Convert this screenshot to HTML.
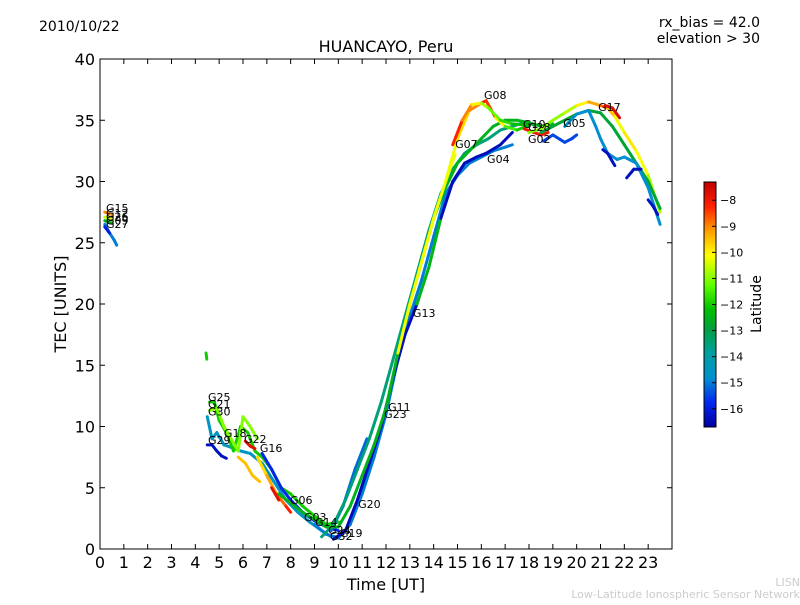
<!DOCTYPE html>
<html><head><meta charset="utf-8"><style>
body{margin:0;background:#fff;}
svg text{font-family:"DejaVu Sans","Liberation Sans",sans-serif;}
</style></head><body>
<svg id="chart" width="800" height="600" xmlns="http://www.w3.org/2000/svg">
<defs>
<linearGradient id="jet" x1="0" y1="1" x2="0" y2="0"></linearGradient>
</defs>
<rect width="800" height="600" fill="#fff"/>
<text x="39" y="31" font-size="14">2010/10/22</text>
<text x="760" y="27" font-size="14" text-anchor="end">rx_bias = 42.0</text>
<text x="760" y="43" font-size="14" text-anchor="end">elevation &gt; 30</text>
<text x="386" y="52" font-size="16" text-anchor="middle">HUANCAYO, Peru</text>
<g id="plot"></g>
<rect x="100" y="59" width="572" height="490" fill="none" stroke="#000" stroke-width="1"/>
<g id="axes"></g>
<text x="386" y="590" font-size="16" text-anchor="middle">Time [UT]</text>
<text transform="translate(66,304) rotate(-90)" font-size="16" text-anchor="middle">TEC [UNITS]</text>
<rect x="704" y="182" width="12" height="245" fill="url(#jet)" stroke="#000" stroke-width="1"/>
<g id="cbar"></g>
<text transform="translate(761,304) rotate(-90)" font-size="14" text-anchor="middle">Latitude</text>
<text x="800" y="586" font-size="11" fill="#ccc" text-anchor="end">LISN</text>
<text x="800" y="598" font-size="11" fill="#ccc" text-anchor="end">Low-Latitude Ionospheric Sensor Network</text>
</svg>
<script>
const xTicks=[0,1,2,3,4,5,6,7,8,9,10,11,12,13,14,15,16,17,18,19,20,21,22,23];
const yTicks=[0,5,10,15,20,25,30,35,40];
const cbTicks=[-8,-9,-10,-11,-12,-13,-14,-15,-16];
const traceTimes=[
[0.2,0.5],[0.2,0.5],[0.2,0.5],[0.2,0.4,0.6,0.7],[0.2,0.4],
[4.5,4.7,4.9,5.2,5.5,5.9,6.3,6.8,7.3,7.8,8.3,8.8,9.3,9.7],
[4.6,4.8,5,5.3,5.6,5.9,6.2,6.5,6.8,7.2,7.6,8,8.5,9,9.5,10],
[4.6,4.9,5.2,5.5,5.8,6,6.3,6.6],
[4.5,4.7,4.9,5.1,5.3],
[6.1,6.3,6.5],
[6.8,7.2,7.6,8,8.5,9,9.5,10],
[6.6,7,7.4,7.8,8],
[5.8,6.1,6.4,6.7],
[4.45,4.48],
[7.2,7.5],
[9,9.5,10,10.5,11,11.5,12,12.5,13,13.5,14,14.5,15,15.5,16,16.5,17,17.3],
[9.8,10.3,10.8,11.3,11.8,12.3,12.8,13.3,13.8,14.3,14.8,15.3,15.8,16.2,16.8,17.3],
[9.7,10.2,10.7,11.2],
[9.3,9.8,10.3,10.8,11.3,11.8,12.3,12.8,13.3,13.8,14.3,14.8,15.3,15.8,16.3,16.8,17.3,17.8,18.3],
[7.5,8.5,9.5,10,10.5,11,11.5,12,12.5,13,13.5,14,14.5,15,15.5,16,16.5,17,17.5,18,18.5,19],
[12.5,13,13.5,14,14.5,14.9],
[14.5,15,15.5,16,16.2,16.6,17,17.5,18],
[14.8,15.2,15.6,16,16.3,16.8,17.3,18],
[17.8,18.2,18.5,18.8],
[18.6,19,19.5,19.8,20],
[18,18.5,19,19.5,20,20.5,21,21.3,21.6,22,22.5,23,23.5],
[21.2,21.5,21.8],
[18.5,19,19.5,20,20.5,21,21.5,22,22.5,23,23.5],
[19.5,20,20.5,20.8,21,21.3,21.7,22,22.5,23,23.5],
[21.1,21.3,21.6],[22.1,22.4,22.7],[23,23.2,23.4]
];
const traceTec=[
[27.5,27.3],[27.1,26.9],[26.8,26.6],[26.5,25.8,25.2,24.8],[26.3,25.8],
[10.8,9,9.5,8.5,8.3,8,7.8,7,5.5,4,3,2.2,1.5,1],
[12,12,10.5,9.5,8,10,9.5,8,7.5,6.5,5,4.5,3.5,2.7,2,2.2],
[11.3,11.5,10,9,8,10.8,10,9],
[8.5,8.5,8,7.6,7.4],
[8.8,8.4,8.2],
[7.8,6.5,5,4,3,2.3,1.8,1.5],
[7.5,6,4.5,3.5,3],
[7.5,7,6,5.5],
[16,15.5],
[5,4],
[2,1.2,0.9,2,4.5,7.5,11,15.5,19,22,25.5,29,30.5,31.5,32,32.5,32.8,33],
[0.8,1.5,4,7,10,14,17.5,20,23,27,30,31.5,32,32.3,33,34],
[1.5,3.5,6.5,9],
[1,2,4,6.5,9,12,15.5,19,22.5,26,29,31,32.3,33,33.5,34.2,34.5,34.8,34.6],
[4.5,3,1.8,1.8,3.5,6,8.5,11.5,16,20,23.5,27,29.5,31.5,32.5,33.5,34.5,35,35,34.8,34.5,34.7],
[16,20,23.5,27,30,32.2],
[30,33.5,35.8,36.4,36.6,35.2,34.5,34.2,34.6],
[33,35,36.3,36.4,36,35,34.7,34.6],
[34.3,34,33.8,34],
[33.3,33.8,33.2,33.5,33.8],
[34,34.3,35,35.6,36.2,36.5,36.2,36,35.3,34,32.5,30.5,27.5],
[36.2,36,35.2],
[34,34.5,35,35.5,35.8,35.6,34.5,33,31.5,30,27.8],
[34.5,35.5,35.8,34.5,33.5,32.3,31.8,32,31.5,29.5,26.5],
[32.6,32.3,31.3],[30.3,31,31],[28.5,28,27.3]
];
const traceLat=[
[-9,-9],[-10.5,-10.5],[-12.5,-12.5],[-15,-15,-15,-15],[-16,-16],
[-14.5,-14.5,-14.5,-14.5,-14.5,-14.5,-14.5,-14.5,-14.5,-14.5,-14.5,-14.5,-14.5,-14.5],
[-12,-12,-12,-12,-12,-12,-12,-12,-12,-12,-12,-12,-12,-12,-12,-12],
[-11,-11,-11,-11,-11,-11,-11,-11],
[-16.3,-16.3,-16.3,-16.3,-16.3],
[-7.8,-7.8,-7.8],
[-15.8,-15.8,-15.8,-15.8,-15.8,-15.8,-15.8,-15.8],
[-10,-9.5,-9,-8.5,-8],
[-9.5,-9.5,-9.5,-9.5],
[-12,-12],
[-7.8,-7.8],
[-15,-15,-15,-15,-15,-15,-15,-15,-15,-15,-15,-15,-15,-15,-15,-15,-15,-15],
[-16.4,-16.4,-16.4,-16.4,-16.4,-16.4,-16.4,-16.4,-8.5,-16.4,-16.4,-16.4,-16.4,-16.4,-16.4,-16.4],
[-15.2,-15.2,-15.2,-15.2],
[-13.5,-13.5,-13.5,-13.5,-13.5,-13.5,-13.5,-13.5,-13.5,-13.5,-13.5,-13.5,-13.5,-13.5,-13.5,-13.5,-13.5,-13.5,-13.5],
[-12.5,-12.5,-12.5,-12.5,-12.5,-12.5,-12.5,-12.5,-12.5,-12.5,-12.5,-12.5,-12.5,-12.5,-12.5,-12.5,-12.5,-12.5,-12.5,-12.5,-12.5,-12.5],
[-10.2,-10.2,-10.2,-10.2,-10.2,-10.2],
[-10.5,-10,-9.5,-8.5,-7.8,-9,-11,-12,-12],
[-8,-8.5,-9.5,-10.5,-11,-11.5,-12,-12.5],
[-8,-8,-8,-8],
[-15.5,-15.5,-15.5,-15.5,-15.5],
[-11,-11,-11,-10.8,-10.5,-9.5,-9,-8.5,-10.5,-10,-9.8,-10.5,-11],
[-7.7,-7.7,-7.7],
[-12.8,-12.8,-12.8,-12.8,-12.8,-12.8,-12.8,-12.8,-12.8,-12.8,-12.8],
[-14.8,-14.8,-14.8,-14.8,-14.8,-14.8,-14.8,-14.8,-14.8,-14.8,-14.8],
[-16.3,-16.3,-16.3],[-16.3,-16.3,-16.3],[-16.3,-16.3,-16.3]
];
const labelNames=["G15","G12","G26","G09","G27","G25","G21","G30","G18","G29","G22","G16","G06","G03","G14","G24","G32","G19","G20","G11","G23","G13","G07","G08","G04","G10","G28","G02","G05","G17"];
const labelTimes=[0.25,0.25,0.25,0.25,0.25,4.53,4.53,4.53,5.2,4.53,6.04,6.71,7.97,8.56,9.02,9.57,9.65,10.07,10.83,12.09,11.92,13.13,14.9,16.11,16.24,17.75,17.96,17.96,19.43,20.9];
const labelTec=[27.5,27.1,26.8,26.5,26.2,12.08,11.5,10.9,9.14,8.57,8.65,7.92,3.67,2.29,1.88,1.22,0.73,0.98,3.35,11.27,10.69,18.94,32.73,36.73,31.51,34.37,34.12,33.14,34.45,35.76];

const NS="http://www.w3.org/2000/svg";
const X=t=>100+t*572/24, Y=v=>549-v*490/40;
const vmin=-16.7,vmax=-7.3;
const CB=v=>427-(v-vmin)/(vmax-vmin)*245;
const cmapPos=[0,0.1,0.2,0.3,0.4,0.48,0.58,0.7,0.8,0.9,1];
const cmapCol=[[0,0,160],[0,40,240],[0,144,208],[0,160,160],[0,160,64],[0,192,0],[96,255,0],[255,255,0],[255,160,0],[255,32,0],[192,0,0]];
function jet(v){let x=(v-vmin)/(vmax-vmin);x=Math.max(0,Math.min(1,x));
 let k=0;while(k<cmapPos.length-2&&x>cmapPos[k+1])k++;
 const f=(x-cmapPos[k])/(cmapPos[k+1]-cmapPos[k]);
 const c=cmapCol[k].map((a,i)=>Math.round(a+(cmapCol[k+1][i]-a)*f));
 return `rgb(${c[0]},${c[1]},${c[2]})`;}
function mk(tag,attrs,parent){const e=document.createElementNS(NS,tag);for(const k in attrs)e.setAttribute(k,attrs[k]);parent.appendChild(e);return e;}
const grad=document.getElementById('jet');
cmapPos.forEach((p,i)=>mk('stop',{offset:p,'stop-color':`rgb(${cmapCol[i].join(',')})`},grad));
const plot=document.getElementById('plot'), axes=document.getElementById('axes'), cbar=document.getElementById('cbar');
traceTimes.forEach((ts,i)=>{
 const g=mk('g',{},plot);
 
 
 for(let j=0;j<ts.length-1;j++){
  const l=mk('line',{x1:X(ts[j]),y1:Y(traceTec[i][j]),x2:X(ts[j+1]),y2:Y(traceTec[i][j+1]),stroke:jet((traceLat[i][j]+traceLat[i][j+1])/2),'stroke-width':3,'stroke-linecap':'round'},g);
  
  
 }
});
labelNames.forEach((n,i)=>{
 const t=mk('text',{x:X(labelTimes[i]),y:Y(labelTec[i]),'font-size':11},plot);
 
 
 t.textContent=n;
});
xTicks.forEach(v=>{
 mk('line',{x1:X(v),x2:X(v),y1:549,y2:544,stroke:'#000'},axes);
 mk('line',{x1:X(v),x2:X(v),y1:59,y2:64,stroke:'#000'},axes);
 const t=mk('text',{x:X(v),y:568,'font-size':16,'text-anchor':'middle'},axes);
 
 
 t.textContent=v;
});
yTicks.forEach(v=>{
 mk('line',{x1:100,x2:105,y1:Y(v),y2:Y(v),stroke:'#000'},axes);
 mk('line',{x1:672,x2:667,y1:Y(v),y2:Y(v),stroke:'#000'},axes);
 const t=mk('text',{x:95,y:Y(v)+6,'font-size':16,'text-anchor':'end'},axes);
 
 
 t.textContent=v;
});
cbTicks.forEach(v=>{
 mk('line',{x1:712,x2:716,y1:CB(v),y2:CB(v),stroke:'#000'},cbar);
 const t=mk('text',{x:720,y:CB(v)+4,'font-size':11},cbar);
 
 
 t.textContent='\u2212'+Math.abs(v);
});
</script>
</body></html>
